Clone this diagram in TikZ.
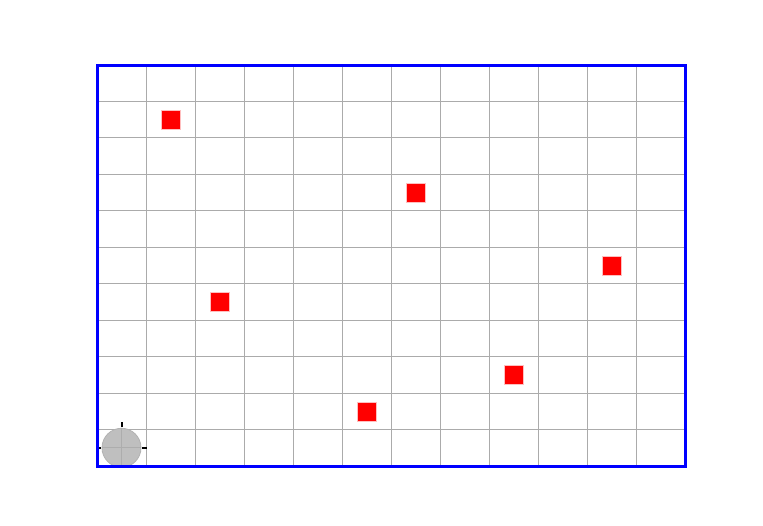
\documentclass[tikz,border=0pt]{standalone}
\begin{document}
\begin{tikzpicture}[x=1pt,y=1pt,
  gridline/.style={draw=black!33, line width=0.9pt},
  frame/.style={draw=blue, line width=3pt},
  obstacle/.style={rectangle, fill=red, draw=red!25, line width=0.6pt, minimum width=19pt, minimum height=19pt, inner sep=0pt},
  robotbody/.style={circle, fill=black!25, draw=black!30, line width=0.8pt, minimum size=39pt, inner sep=0pt},
  tick/.style={draw=black, line width=2pt}]
\useasboundingbox (0,0) rectangle (763,525);
\begin{scope}[shift={(97,59)}, x=49pt, y=36.45pt]
  % grid
  \foreach \i in {1,...,11} \draw[gridline] (\i,0) -- (\i,11);
  \foreach \j in {1,...,10} \draw[gridline] (0,\j) -- (12,\j);
  % obstacles
  \node[obstacle] (o1) at (1.5,9.5) {};
  \node[obstacle] (o2) at (6.5,7.5) {};
  \node[obstacle] (o3) at (10.5,5.5) {};
  \node[obstacle] (o4) at (2.5,4.5) {};
  \node[obstacle] (o5) at (8.5,2.5) {};
  \node[obstacle] (o6) at (5.5,1.5) {};
  % robot
  \node[robotbody] (r) at (0.5,0.5) {};
  \draw[draw=black!32, line width=0.8pt] (r.north) -- (r.south) (r.west) -- (r.east);
  \draw[tick] ([yshift=0.5pt]r.north) -- ([yshift=5.5pt]r.north);
  \draw[tick] ([xshift=0.5pt]r.east) -- ([xshift=5.5pt]r.east);
  \draw[tick] ([xshift=-0.5pt]r.west) -- ([xshift=-5.5pt]r.west);
  % frame
  \draw[frame] (0,0) rectangle (12,11);
\end{scope}
\end{tikzpicture}
\end{document}
